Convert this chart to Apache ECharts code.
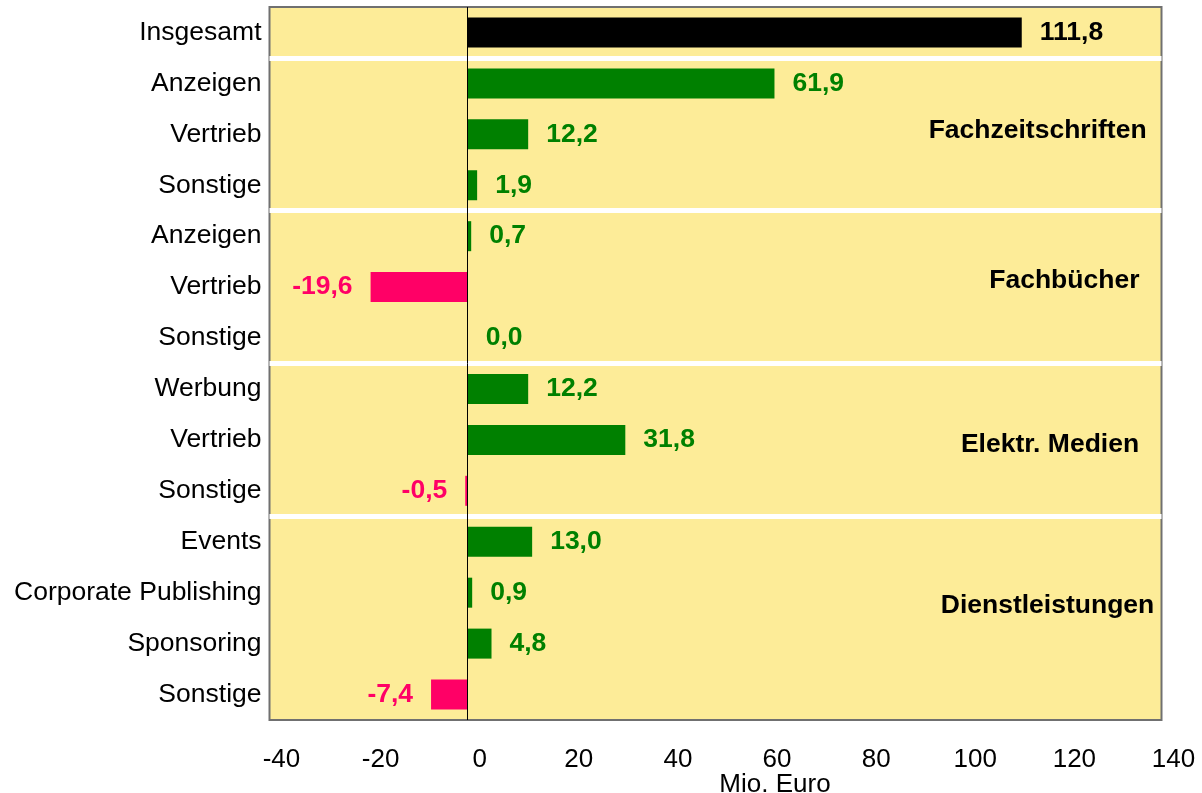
<!DOCTYPE html>
<html><head><meta charset="utf-8">
<script src="https://cdn.jsdelivr.net/npm/echarts@6/dist/echarts.min.js"></script>
<style>html,body{margin:0;padding:0;background:#fff}#c{width:1202px;height:793px}</style>
</head><body><div id="c"></div>
<script>
// ---- data ----
const categories = ['Insgesamt','Anzeigen','Vertrieb','Sonstige','Anzeigen','Vertrieb','Sonstige','Werbung','Vertrieb','Sonstige','Events','Corporate Publishing','Sponsoring','Sonstige'];
const values = [111.8, 61.9, 12.2, 1.9, 0.7, -19.6, 0.0, 12.2, 31.8, -0.5, 13.0, 0.9, 4.8, -7.4];
const groupNames = ['Fachzeitschriften','Fachbücher','Elektr. Medien','Dienstleistungen'];
const groupStartIndex = [1, 4, 7, 10];
const xMin = -40, xMax = 140, xStep = 20;
const axisTitle = 'Mio. Euro';

// ---- layout / style ----
const FONT = '"Liberation Sans", Arial, Helvetica, sans-serif';
const GREEN = '#008000', PINK = '#FF0066', TOTAL = '#000000';
const groupLabelPos = [[115.0, 1.935], [120.4, 4.87], [117.5, 8.10], [117.0, 11.26]];
function fmt(v){ return v.toFixed(1).replace('.', ','); }

const chart = echarts.init(document.getElementById('c'), null, {renderer: 'canvas'});
const barData = values.map((v, i) => {
  const col = i === 0 ? TOTAL : (v < 0 ? PINK : GREEN);
  return {value: v, itemStyle: {color: col}, label: {position: v < 0 ? 'left' : 'right', color: col}};
});
// separator colours: one white line per group start, the trailing end-of-axis line hidden
const sepColors = groupStartIndex.map(() => '#ffffff').concat(['rgba(0,0,0,0)']);

const option = {
  animation: false,
  grid: {left: 269.5, right: 40.5, top: 7, bottom: 73, show: true,
    backgroundColor: '#FDEC98', borderColor: '#707070', borderWidth: 2},
  xAxis: {type: 'value', min: xMin, max: xMax, interval: xStep,
    axisLine: {show: false}, axisTick: {show: false}, splitLine: {show: false},
    axisLabel: {fontFamily: FONT, fontSize: 26, color: '#000', margin: 27, padding: [0, 0, 0, 24]}},
  yAxis: {type: 'category', data: categories, inverse: true,
    axisLine: {show: false}, axisTick: {show: false},
    axisLabel: {fontFamily: FONT, fontSize: 26.5, color: '#000', margin: 8, padding: [6, 0, 0, 0]},
    splitLine: {show: true, interval: (i) => groupStartIndex.includes(i), lineStyle: {color: sepColors, width: 5}}},
  series: [{
    type: 'bar', data: barData, barWidth: 30,
    label: {show: true, distance: 18, fontFamily: FONT, fontSize: 26.5, fontWeight: 'bold',
      formatter: p => fmt(p.value)},
    markLine: {silent: true, symbol: 'none', label: {show: false},
      lineStyle: {color: '#000', width: 1, type: 'solid'}, data: [{xAxis: 0}]}
  }]
};
chart.setOption(option);

function yPix(idx){
  const a = Math.floor(idx), f = idx - a;
  const p0 = chart.convertToPixel({yAxisIndex: 0}, a);
  const p1 = chart.convertToPixel({yAxisIndex: 0}, a + 1);
  return p0 + f * (p1 - p0);
}
const graphics = groupNames.map((g, i) => ({
  type: 'text', silent: true,
  x: chart.convertToPixel({xAxisIndex: 0}, groupLabelPos[i][0]),
  y: yPix(groupLabelPos[i][1]),
  style: {text: g, fontFamily: FONT, fontSize: 26.5, fontWeight: 'bold', fill: '#000', align: 'center', verticalAlign: 'middle'}
}));
graphics.push({
  type: 'text', silent: true,
  x: chart.convertToPixel({xAxisIndex: 0}, 62),
  y: 785,
  style: {text: axisTitle, fontFamily: FONT, fontSize: 26, fill: '#000', align: 'center', verticalAlign: 'middle'}
});
chart.setOption({graphic: graphics});
</script>
</body></html>
